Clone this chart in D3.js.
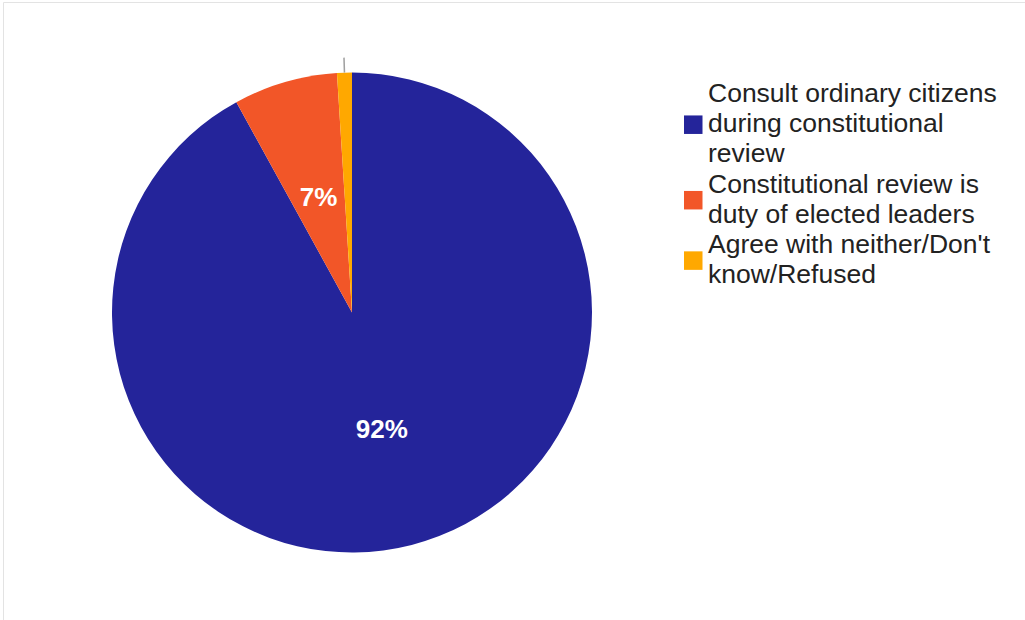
<!DOCTYPE html>
<html>
<head>
<meta charset="utf-8">
<script src="https://cdn.jsdelivr.net/npm/d3@7"></script>
<style>
html,body{margin:0;padding:0;background:#fff;}
svg{display:block;}
</style>
</head>
<body>
<svg id="chart" width="1025" height="620"></svg>
<script>
const categories = [
  "Consult ordinary citizens during constitutional review",
  "Constitutional review is duty of elected leaders",
  "Agree with neither/Don't know/Refused"
];
const values = [92, 7, 1];
const colors = ["#24249a", "#f25628", "#ffa800"];
const legendLines = [
  ["Consult ordinary citizens", "during constitutional", "review"],
  ["Constitutional review is", "duty of elected leaders"],
  ["Agree with neither/Don't", "know/Refused"]
];

const svg = d3.select("#chart");
const W = 1025, H = 620;

// frame lines
svg.append("line").attr("x1", 3.5).attr("x2", W).attr("y1", 2.5).attr("y2", 2.5)
  .attr("stroke", "#e3e3e3").attr("stroke-width", 1);
svg.append("line").attr("x1", 3.5).attr("x2", 3.5).attr("y1", 2.5).attr("y2", H)
  .attr("stroke", "#e3e3e3").attr("stroke-width", 1);

const cx = 352, cy = 312.5, R = 240;
const data = categories.map((c, i) => ({cat: c, value: values[i], color: colors[i]}));
const pie = d3.pie().value(d => d.value).sort(null).startAngle(0).endAngle(2 * Math.PI);
const arcs = pie(data);
const arc = d3.arc().innerRadius(0).outerRadius(R);
const labelArc = d3.arc().innerRadius(R * 0.5).outerRadius(R * 0.5);

const g = svg.append("g").attr("transform", `translate(${cx},${cy})`);
g.selectAll("path").data(arcs).enter().append("path")
  .attr("d", arc)
  .attr("fill", d => d.data.color);

const total = d3.sum(values);
// labels
arcs.forEach(a => {
  const pct = a.data.value / total;
  const mid = (a.startAngle + a.endAngle) / 2;
  if (pct >= 0.05) {
    const [lx, ly] = labelArc.centroid(a);
    g.append("text")
      .attr("x", lx).attr("y", ly)
      .attr("text-anchor", "middle")
      .attr("dominant-baseline", "central")
      .attr("font-family", "'Liberation Sans', Arial, sans-serif")
      .attr("font-weight", "bold")
      .attr("font-size", 26)
      .attr("fill", "#fff")
      .text(Math.round(pct * 100) + "%");
  } else {
    // leader tick for small slice
    const r1 = R, r2 = R + 15;
    g.append("line")
      .attr("x1", Math.sin(mid) * r1).attr("y1", -Math.cos(mid) * r1)
      .attr("x2", Math.sin(mid) * r2).attr("y2", -Math.cos(mid) * r2)
      .attr("stroke", "#a0a0a0").attr("stroke-width", 1.5);
  }
});

// legend
const lx0 = 684, tx0 = 708, baseline0 = 102, lh = 30.2, sq = 18.5;
let lineIdx = 0;
legendLines.forEach((lines, i) => {
  const bases = lines.map((_, j) => baseline0 + (lineIdx + j) * lh);
  const mean = d3.mean(bases);
  svg.append("rect")
    .attr("x", lx0).attr("y", mean - 7.5 - sq / 2)
    .attr("width", sq).attr("height", sq)
    .attr("fill", colors[i]);
  const t = svg.append("text")
    .attr("font-family", "'Liberation Sans', Arial, sans-serif")
    .attr("font-size", 26.5)
    .attr("fill", "#222");
  lines.forEach((ln, j) => {
    t.append("tspan").attr("x", tx0).attr("y", bases[j]).text(ln);
  });
  lineIdx += lines.length;
});
</script>
</body>
</html>
